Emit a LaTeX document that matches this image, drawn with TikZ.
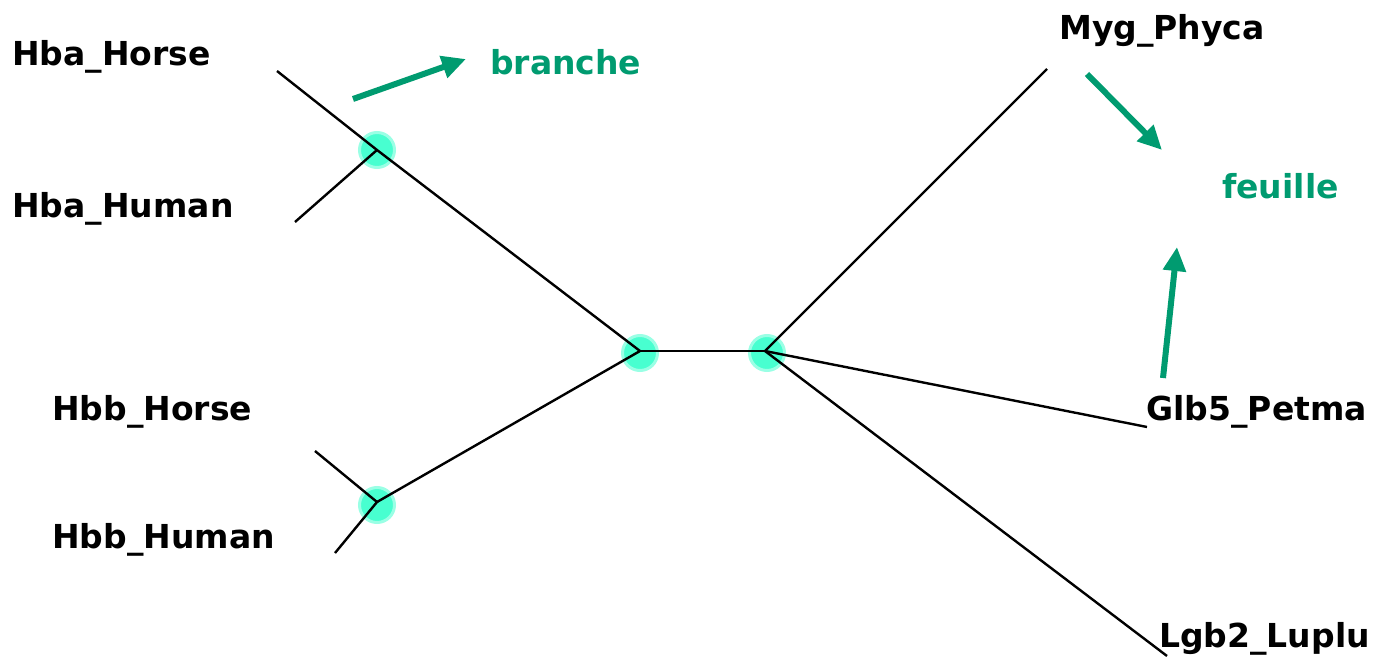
\documentclass[tikz,border=0pt]{standalone}
\usepackage{fontspec}
\setmainfont{DejaVu Sans}
\usetikzlibrary{arrows.meta}
\definecolor{arrowgreen}{RGB}{0,155,112}
\definecolor{dotgreen}{RGB}{72,255,208}
\tikzset{
  branchline/.style={black, line width=2.4pt},
  junction/.style={circle, fill=dotgreen, draw=dotgreen!55, line width=3pt, minimum size=35pt, inner sep=0pt},
  leaf/.style={font=\fontsize{33}{36}\selectfont\bfseries, inner sep=0pt},
  note/.style={font=\fontsize{33}{36}\selectfont\bfseries, text=arrowgreen, inner sep=0pt},
  pointer/.style={arrowgreen, line width=6pt, -{Triangle[length=24pt,width=22pt]}},
}
\begin{document}
\begin{tikzpicture}[x=1pt,y=-1pt]
\useasboundingbox (0,0) rectangle (1377,661);
% junction markers
\node[junction] (jA) at (377,150) {};
\node[junction] (jL) at (640,353) {};
\node[junction] (jR) at (767,353) {};
\node[junction] (jB) at (377,505) {};
% inner vertices of the tree
\coordinate (vA) at (377,150);
\coordinate (vL) at (640,351);
\coordinate (vR) at (765,351);
\coordinate (vB) at (377,502);
% leaf ends
\coordinate (eHbaHorse) at (277,71);
\coordinate (eHbaHuman) at (295,222);
\coordinate (eHbbHorse) at (315,451);
\coordinate (eHbbHuman) at (335,553);
\coordinate (eMyg) at (1047,69);
\coordinate (eGlb) at (1147,427);
\coordinate (eLgb) at (1167,656);
% branches
\draw[branchline] (eHbaHorse) -- (vA) -- (vL);
\draw[branchline] (eHbaHuman) -- (vA);
\draw[branchline] (vL) -- (vR);
\draw[branchline] (vL) -- (vB);
\draw[branchline] (eHbbHorse) -- (vB) -- (eHbbHuman);
\draw[branchline] (vR) -- (eMyg);
\draw[branchline] (vR) -- (eGlb);
\draw[branchline] (vR) -- (eLgb);
% leaf labels
\node[leaf, anchor=west] (lHbaHorse) at (12,57) {Hba\_Horse};
\node[leaf, anchor=west] (lHbaHuman) at (12,209) {Hba\_Human};
\node[leaf, anchor=west] (lHbbHorse) at (52,412) {Hbb\_Horse};
\node[leaf, anchor=west] (lHbbHuman) at (52,540) {Hbb\_Human};
\node[leaf, anchor=east] (lMyg) at (1265,31) {Myg\_Phyca};
\node[leaf, anchor=east] (lGlb) at (1367,412) {Glb5\_Petma};
\node[leaf, anchor=east] (lLgb) at (1370,639) {Lgb2\_Luplu};
% annotations
\node[note, anchor=west] (branche) at (490,62) {branche};
\node[note, anchor=west] (feuille) at (1222,186) {feuille};
\coordinate (pa1) at (353,99);
\coordinate (pa2) at (466,59);
\coordinate (pb1) at (1087,74);
\coordinate (pb2) at (1162,150);
\coordinate (pc1) at (1163,378);
\coordinate (pc2) at (1177,247);
\draw[pointer] (pa1) -- (pa2);
\draw[pointer] (pb1) -- (pb2);
\draw[pointer] (pc1) -- (pc2);
\end{tikzpicture}
\end{document}
